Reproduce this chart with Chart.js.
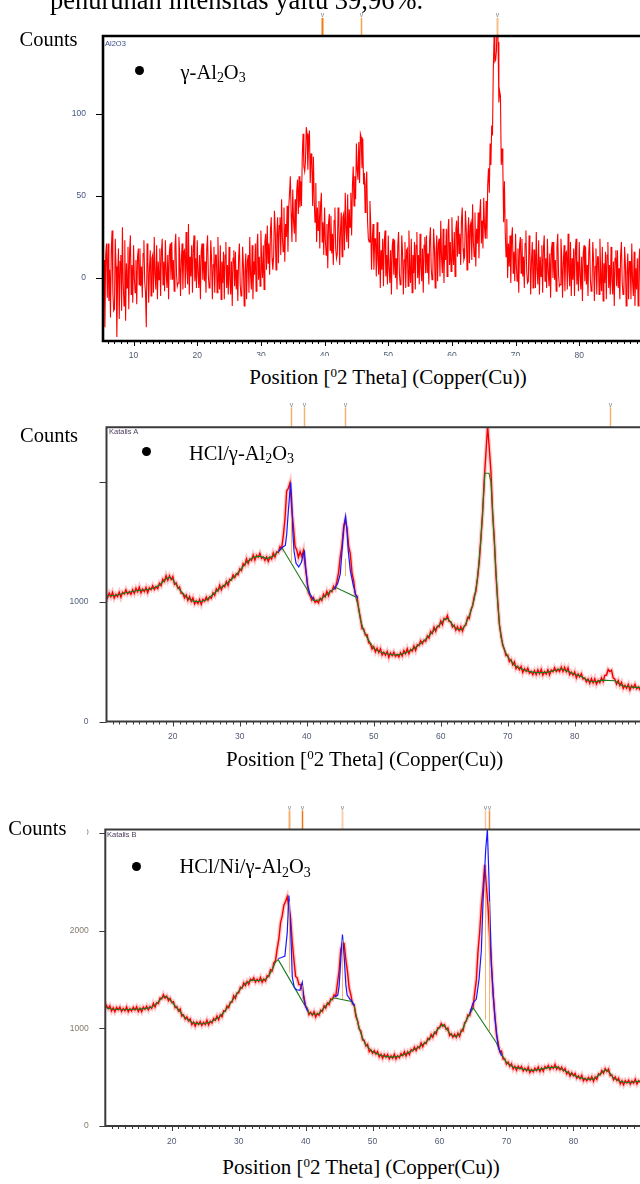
<!DOCTYPE html>
<html>
<head>
<meta charset="utf-8">
<script src="https://cdn.jsdelivr.net/npm/chart.js@4.4.1/dist/chart.umd.min.js"></script>
<style>
body { margin: 0; width: 640px; height: 1184px; overflow: hidden; position: relative; background: #fff; font-family: "Liberation Serif", "Times New Roman", serif; }
canvas { position: absolute; left: 0; }
.t { position: absolute; white-space: nowrap; line-height: 1; color: #000; }
.s { position: absolute; white-space: nowrap; line-height: 1; font-family: "Liberation Sans", Arial, sans-serif; font-size: 7.5px; }
.dot { position: absolute; width: 9px; height: 9px; border-radius: 50%; background: #000; }
.sb { font-size: 0.68em; position: relative; top: 0.28em; }
.sp { font-size: 0.62em; position: relative; top: -0.55em; }
.pos { text-align: center; font-size: 21px; }
</style>
</head>
<body>
<canvas id="c1" width="641" height="370" style="top:0px"></canvas>
<canvas id="c2" width="642" height="360" style="top:390px"></canvas>
<canvas id="c3" width="640" height="360" style="top:795px"></canvas>

<div class="t" style="left:50px; top:-13px; font-size:26.5px;">penurunan intensitas yaitu 39,96%.</div>

<div class="t" style="left:19.5px; top:29px; font-size:20.5px;">Counts</div>
<div class="s" style="left:105px; top:39.5px; color:#3a4a8a;">Al2O3</div>
<div class="dot" style="left:135px; top:65.5px;"></div>
<div class="t" style="left:180.5px; top:61.5px; font-size:20.5px;">γ-Al<span class="sb">2</span>O<span class="sb">3</span></div>
<div class="t pos" style="left:242px; top:356px; width:292px; height:36px; padding-top:11.3px; box-sizing:border-box; background:#fff;">Position [<span class="sp">0</span>2 Theta] (Copper(Cu))</div>

<div class="t" style="left:20px; top:424.5px; font-size:20.5px;">Counts</div>
<div class="s" style="left:109px; top:428.2px; color:#4a3a5a;">Katalis A</div>
<div class="dot" style="left:141.5px; top:446.5px;"></div>
<div class="t" style="left:189px; top:442.5px; font-size:20.5px;">HCl/γ-Al<span class="sb">2</span>O<span class="sb">3</span></div>
<div class="t pos" style="left:164.7px; top:749.3px; width:400px;">Position [<span class="sp">0</span>2 Theta] (Copper(Cu))</div>

<div class="t" style="left:8.3px; top:817.5px; font-size:20.5px;">Counts</div>
<div style="position:absolute; left:70px; top:826px; width:17px; height:12px; background:#fff;"></div>
<div class="s" style="left:107px; top:830.9px; color:#4a3a5a;">Katalis B</div>
<div class="dot" style="left:132.2px; top:861.5px;"></div>
<div class="t" style="left:179.5px; top:856px; font-size:20.5px;">HCl/Ni/γ-Al<span class="sb">2</span>O<span class="sb">3</span></div>
<div class="t pos" style="left:161px; top:1157.3px; width:400px;">Position [<span class="sp">0</span>2 Theta] (Copper(Cu))</div>

<script>
// gamma-Al2O3 scan: counts every 0.125 deg from 5.25 deg
const start1 = 5.25, step1 = 0.125;
const counts1 = [
  -20, 11, -30, 14, 21, -12,
  21, -14, 5, -24, 17, 29, -9, -20,     -19, 24, 7, -36, 1, 18, -25, 10,
  14, -20, 31, -3, -17, 23, -26, 9,     -6, 19, -19, 16, 26, -10, 8, -15,
  20, 0, -9, 11, -16, 13, 18, -4,       18, -5, 7, -12, 15, 23, -2, -9,
  -30, 21, 10, -15, 6, 17, -11, 12,     14, -9, 25, 2, -7, 20, -13, 10,
  -1, 18, -11, 16, 24, -4, 10, -8,      23, 3, -6, 14, -13, 16, 21, -1,
  22, -1, 11, -8, 19, 27, 2, -5,        -3, 25, 14, -11, 10, 21, -7, 16,
  17, -6, 28, 5, -4, 33, -10, 13,       1, 20, -9, 18, 26, -2, 12, -6,
  23, 3, -6, 14, -13, 16, 21, -1,       21, -2, 10, -9, 18, 26, 1, -6,
  -5, 23, 12, -13, 8, 19, -9, 14,       14, -9, 25, 2, -7, 20, -13, 10,
  -3, 16, -13, 14, 22, -6, 8, -10,      19, -1, -10, 10, -17, 12, 17, -5,
  16, -7, 5, -14, 13, 21, -4, -11,      -9, 19, 8, -17, 4, 15, -13, 10,
  14, -9, 25, 2, -7, 20, -13, 10,       2, 21, -8, 19, 27, -1, 13, -5,
  29, 9, 0, 20, -7, 22, 27, 5,          32, 9, 21, 2, 29, 37, 12, 5,
  13, 41, 30, 5, 26, 37, 9, 32,         37, 14, 48, 25, 16, 43, 10, 33,
  25, 44, 16, 43, 52, 62, 39, 22,       54, 35, 27, 48, 22, 53, 60, 39,
  62, 43, 59, 44, 75, 88, 68, 65,       71, 92, 88, 66, 84, 90, 58, 76,
  72, 44, 74, 47, 34, 58, 22, 43,       29, 47, 18, 45, 52, 22, 34, 14,
  43, 23, 14, 33, 6, 34, 39, 17,        38, 15, 27, 8, 35, 43, 18, 12,
  15, 43, 32, 8, 29, 40, 13, 37,        39, 17, 52, 30, 22, 51, 18, 42,
  31, 52, 26, 56, 68, 44, 62, 48,       82, 66, 60, 83, 58, 88, 86, 67,
  85, 57, 64, 40, 57, 65, 35, 24,       22, 47, 33, 5, 24, 33, 5, 24,
  24, 1, 34, 11, 2, 28, -6, 17,         5, 24, -5, 22, 29, 1, 14, -4,
  26, 6, -3, 17, -10, 19, 24, 2,        23, 0, 12, -7, 20, 28, 3, -4,
  -2, 26, 15, -10, 11, 22, -6, 17,      18, -5, 29, 6, -3, 24, -9, 14,
  3, 22, -7, 20, 28, 0, 14, -4,         27, 7, -2, 18, -9, 20, 25, 3,
  26, 3, 15, -4, 23, 31, 6, -1,         2, 30, 19, -6, 15, 26, -2, 21,
  24, 1, 35, 12, 3, 30, -3, 20,         11, 30, 1, 28, 36, 8, 22, 4,
  37, 17, 8, 28, 1, 30, 35, 13,         38, 15, 27, 8, 35, 43, 18, 11,
  13, 41, 30, 5, 26, 37, 9, 32,         34, 11, 45, 22, 13, 40, 7, 30,
  21, 40, 12, 39, 48, 21, 35, 18,       49, 31, 24, 47, 24, 57, 67, 52,
  82, 69, 93, 87, 127, 147, 132, 133,   139, 163, 144, 107, 114, 111, 69, 79,
  68, 34, 59, 28, 13, 36, 0, 21,        7, 26, -3, 24, 31, 3, 16, -2,
  27, 7, -2, 18, -9, 20, 25, 3,         24, 1, 13, -6, 21, 29, 4, -3,
  -2, 26, 15, -10, 11, 22, -6, 17,      17, -6, 28, 5, -4, 23, -10, 13,
  1, 20, -9, 18, 26, -2, 12, -6,        24, 4, -5, 15, -12, 17, 22, 0,
  22, -1, 11, -8, 19, 27, 2, -5,        -4, 24, 13, -12, 9, 20, -8, 15,
  16, -7, 27, 4, -5, 22, -11, 12,       -1, 18, -11, 16, 24, -4, 10, -8,
  22, 2, -7, 13, -14, 15, 20, -2,       19, -4, 8, -11, 16, 24, -1, -8,
  -6, 22, 11, -14, 7, 18, -10, 13,      13, -10, 24, 1, -8, 19, -14, 9,
  -3, 16, -13, 14, 22, -6, 8, -10,      19, -1, -10, 10, -17, 12, 17, -5,
  17, -6, 6, -13, 14, 22, -3, -10,      -9, 19, 8, -17, 4, 15, -13, 10,
  10, -13, 21, -2, -11, 16, -17, 6,     -7, 12, -17, 10, 18, -10, 4
];

// Katalis A, HCl/gamma-Al2O3: counts every 0.25 deg from 10 deg
const start2 = 10, step2 = 0.25;
const counts2 = [
  1064, 1032, 1072, 1041,  1077, 1031, 1061, 1043,  1079, 1038, 1079, 1065,  1099, 1065, 1083, 1063,
  1099, 1070, 1112, 1084,  1122, 1075, 1104, 1084,  1119, 1077, 1116, 1101,  1134, 1102, 1125, 1110,
  1154, 1134, 1187, 1169,  1217, 1179, 1216, 1185,  1209, 1144, 1156, 1113,  1124, 1072, 1068, 1032,
  1054, 1012, 1042, 1003,  1032, 982, 1007, 985,    1019, 978, 1019, 1004,   1039, 1012, 1040, 1028,
  1074, 1054, 1107, 1089,  1137, 1099, 1136, 1125,  1169, 1136, 1186, 1181,  1224, 1202, 1233, 1225,
  1274, 1260, 1317, 1303,  1357, 1319, 1356, 1345,  1389, 1347, 1387, 1371,  1404, 1362, 1373, 1345,
  1374, 1337, 1372, 1356,  1407, 1374, 1416, 1410,  1459, 1444, 1551, 1693,  1924, 1947, 1993, 1780,
  1634, 1462, 1432, 1371,  1417, 1379, 1426, 1305,  1199, 1074, 1051, 1013,  1034, 994, 1008, 990,
  1029, 1010, 1062, 1041,  1087, 1051, 1091, 1083,  1129, 1109, 1171, 1243,  1374, 1467, 1623, 1680,
  1614, 1462, 1402, 1241,  1177, 1059, 1046, 935,   869, 774, 771, 723,      724, 657, 648, 605,
  624, 582, 612, 576,      607, 555, 578, 553,      584, 536, 571, 550,      579, 543, 560, 538,
  574, 547, 592, 566,      607, 566, 601, 587,      629, 594, 641, 633,      674, 649, 678, 668,
  714, 697, 752, 736,      787, 754, 796, 790,      839, 809, 861, 851,      884, 835, 833, 790,
  804, 762, 792, 758,      792, 754, 796, 805,      869, 859, 931, 963,      1044, 1087, 1203, 1330,
  1534, 1732, 2022, 2241,  2467, 2279, 2086, 1735,  1519, 1224, 1011, 813,   724, 637, 603, 550,
  554, 500, 517, 473,      497, 441, 461, 432,      459, 409, 441, 418,      444, 404, 418, 392,
  424, 391, 430, 399,      435, 388, 416, 396,      431, 389, 429, 415,      449, 417, 438, 418,
  454, 417, 452, 416,      447, 392, 413, 386,      414, 364, 396, 373,      399, 355, 363, 330,
  354, 319, 357, 323,      357, 312, 342, 325,      364, 334, 386, 388,      434, 417, 428, 365,
  354, 312, 342, 301,      327, 277, 302, 278,      309, 263, 299, 280,      310, 273, 288, 265,
  299
];
// fitted background (green) and profile fit (blue), [angle, counts]
const background2 = [
  [10,1050],[11,1050],[12,1060],[13,1075],[14,1085],[15,1095],[16,1100],[17,1110],[18,1140],[19,1190],
  [19.5,1205],[20,1185],[21,1100],[22,1040],[23,1005],[24,1000],[25,1015],[26,1060],[27,1110],[28,1150],
  [29,1200],[30,1260],[31,1330],[32,1370],[33,1380],[34,1360],[35,1380],[35.5,1405],[36.3,1450],[40.5,1060],
  [41,1010],[42,1015],[43,1060],[44.3,1120],[47.3,1040],[47.75,950],[48,850],[48.5,760],[49,700],[50,610],
  [51,580],[52,565],[53,555],[54,560],[55,580],[56,610],[57,650],[58,700],[59,760],[60,820],[60.5,850],
  [61,860],[61.5,830],[62,790],[62.5,770],[63,765],[63.5,790],[64,850],[64.5,920],[65,1020],[65.5,1200],
  [66,1520],[66.3,1800],[66.6,2073],[67.2,2073],[67.5,2000],[67.75,1750],[68,1500],[68.25,1250],[68.5,1000],
  [68.75,820],[69,700],[69.5,600],[70,540],[71,470],[72,440],[73,420],[74,410],[75,408],[76,412],[77,425],
  [78,440],[79,420],[80,395],[81,375],[82,340],[83,330],[84,345],[86,340],[87,300],[88,290],[89,285],[90,285]
];
const fit2 = [
  [35.8,1420],[36.3,1452],[36.8,1470],[37.0,1560],[37.25,1760],[37.45,1900],[37.6,1997],[37.75,1850],
  [37.9,1600],[38.1,1420],[38.4,1320],[38.8,1290],[39.2,1330],[39.5,1400],[39.65,1420],[39.85,1280],
  [40.1,1140],[40.5,1060],[41,1020],[42,null],
  [44.0,1100],[44.6,1150],[45.0,1230],[45.3,1450],[45.6,1650],[45.8,1714],[46.0,1600],[46.2,1420],
  [46.5,1260],[46.9,1150],[47.3,1060],[47.6,1030]
];
// peak sticks inside the frame: [angle, low counts, high counts]
const sticks2 = [[37.65, 1330, 1700], [45.77, 1215, 1360]];

// Katalis B, HCl/Ni/gamma-Al2O3: counts every 0.25 deg from 10 deg
const start3 = 10, step3 = 0.25;
const counts3 = [
  1204, 1235, 1202, 1230,  1178, 1209, 1171, 1213,  1190, 1217, 1173, 1203,  1179, 1219, 1169, 1201,
  1179, 1215, 1187, 1220,  1173, 1206, 1171, 1216,  1195, 1226, 1188, 1223,  1204, 1256, 1218, 1263,
  1254, 1310, 1302, 1345,  1308, 1330, 1283, 1307,  1265, 1273, 1211, 1222,  1179, 1198, 1126, 1137,
  1094, 1117, 1077, 1097,  1038, 1065, 1023, 1064,  1040, 1069, 1029, 1061,  1039, 1083, 1036, 1072,
  1054, 1100, 1082, 1125,  1088, 1138, 1118, 1179,  1175, 1228, 1211, 1267,  1269, 1333, 1306, 1362,
  1364, 1420, 1412, 1465,  1438, 1480, 1451, 1504,  1490, 1517, 1473, 1503,  1479, 1520, 1471, 1504,
  1484, 1540, 1532, 1600,  1588, 1670, 1693, 1817,  1915, 2083, 2151, 2262,  2299, 2348, 2236, 2127,
  1884, 1700, 1532, 1515,  1448, 1450, 1393, 1317,  1225, 1203, 1141, 1164,  1134, 1170, 1116, 1152,
  1134, 1185, 1172, 1230,  1208, 1260, 1243, 1302,  1295, 1343, 1331, 1462,  1589, 1808, 1866, 1867,
  1704, 1580, 1412, 1345,  1248, 1240, 1123, 1077,  995, 973, 881, 877,      819, 836, 761, 779,
  744, 772, 737, 762,      708, 735, 693, 732,      705, 731, 688, 718,      694, 735, 686, 719,
  699, 742, 720, 759,      718, 759, 731, 783,      770, 807, 773, 813,      799, 850, 811, 854,
  844, 897, 887, 937,      908, 960, 943, 1007,     1005, 1048, 1021, 1037,  989, 1003, 926, 945,
  909, 940, 907, 950,      918, 980, 973, 1057,     1075, 1138, 1131, 1192,  1209, 1358, 1496, 1787,
  1984, 2250, 2442, 2675,  2458, 2240, 1923, 1667,  1345, 1153, 941, 852,    759, 768, 686, 687,
  634, 655, 612, 637,      583, 611, 571, 611,      585, 609, 563, 590,      564, 602, 548, 578,
  554, 592, 567, 603,      558, 594, 561, 608,      590, 619, 579, 611,      589, 631, 581, 605,
  574, 602, 564, 588,      533, 556, 511, 546,      515, 537, 489, 513,      484, 519, 462, 489,
  462, 498, 471, 504,      458, 502, 478, 534,      525, 568, 541, 587,      559, 583, 516, 522,
  474, 501, 464, 488,      433, 462, 423, 464,      440, 469, 429, 461,      439, 480, 431, 464,
  444
];
const background3 = [
  [10,1215],[11,1198],[12,1193],[13,1191],[14,1195],[15,1197],[16,1202],[17,1215],[18,1270],[18.5,1310],
  [19,1328],[19.5,1310],[20,1270],[21,1190],[22,1110],[23,1060],[24,1046],[25,1050],[26,1070],[27,1110],
  [28,1180],[29,1280],[30,1380],[31,1460],[32,1494],[33,1490],[34,1500],[34.5,1540],[35,1600],[35.5,1680],
  [35.9,1703],[39.65,1261],[40,1230],[40.5,1160],[41,1145],[42,1150],[43,1230],[44.13,1313],[46.87,1275],
  [47.25,1230],[47.5,1150],[48,1000],[48.5,900],[49,830],[50,760],[51,730],[52,710],[53,705],[54,715],
  [55,740],[56,775],[57,810],[58,860],[59,930],[60,1010],[60.5,1040],[61,1000],[61.5,950],[62,925],
  [62.5,915],[63,940],[63.5,1000],[64,1080],[64.5,1150],[65.04,1208],[68.52,850],[69,770],[69.5,710],
  [70,650],[71,605],[72,590],[73,575],[74,570],[75,580],[76,595],[77,600],[77.5,605],[78,590],[79,555],
  [80,520],[81,495],[82,478],[83,480],[84,530],[84.75,575],[85,570],[85.5,540],[86,490],[87,455],[88,445],
  [89,450],[90,460]
];
const fit3 = [
  [35.9,1715],[36.4,1725],[36.9,1740],[37.25,1980],[37.5,2360],[37.75,2040],[38.0,1530],[38.3,1420],
  [38.65,1395],[39.15,1390],[39.5,1470],[39.75,1300],[39.9,1240],[40.3,1175],[42,null],
  [44.3,1320],[44.8,1340],[45.0,1430],[45.27,1736],[45.5,1960],[45.75,1740],[46.0,1450],[46.2,1340],
  [46.6,1300],[47.0,1270],[47.3,1230],[55,null],
  [64.5,1150],[65.0,1260],[65.5,1300],[65.9,1500],[66.25,1800],[66.5,2300],[66.9,2830],[67.15,3036],
  [67.4,2500],[67.75,1640],[68.25,1120],[68.75,820],[69.25,720]
];
const sticks3 = [[37.5, 1570, 2300], [39.5, 1300, 1440], [45.47, 1300, 1908], [66.74, 1090, 2450], [67.32, 970, 2300]];

// reference peak positions marked above each frame
const peaks1 = [39.55, 45.68, 67.03];
const peaks2 = [37.65, 39.65, 45.77, 85.27];
const peaks3 = [37.5, 39.5, 45.47, 66.74, 67.32];

// axis tick values
const xTicks1 = [10, 20, 30, 40, 50, 60, 70, 80];
const xTicks23 = [20, 30, 40, 50, 60, 70, 80];
const yTicks1 = [0, 50, 100];
const yTicks2 = [0, 1000, 2000];
const yTicks3 = [0, 1000, 2000, 3000];

function series(start, step, counts) {
  return counts.map((c, i) => ({ x: start + i * step, y: c }));
}
function pairs(list) {
  return list.map(p => ({ x: p[0], y: p[1] }));
}

function xrdFrame(cfg) {
  return {
    id: 'xrdFrame',
    afterDraw(chart) {
      const ctx = chart.ctx, a = chart.chartArea;
      const xs = chart.scales.x, ys = chart.scales.y;
      ctx.save();
      // sticks inside the plot
      ctx.strokeStyle = 'rgba(245,160,80,0.8)';
      ctx.lineWidth = 1;
      (cfg.sticks || []).forEach(function(s) {
        const px = Math.round(xs.getPixelForValue(s[0])) + 0.5;
        ctx.beginPath();
        ctx.moveTo(px, ys.getPixelForValue(s[1]));
        ctx.lineTo(px, ys.getPixelForValue(s[2]));
        ctx.stroke();
      });
      cfg.peaks.forEach(function(p, i) {
        const px = Math.round(xs.getPixelForValue(p)) + 0.5;
        ctx.strokeStyle = cfg.peakColors[i];
        ctx.lineWidth = cfg.peakWidths[i];
        ctx.beginPath();
        ctx.moveTo(px, a.top - cfg.peakLen);
        ctx.lineTo(px, a.top);
        ctx.stroke();
        ctx.fillStyle = '#858585';
        ctx.font = '7px "Liberation Sans"';
        ctx.textAlign = 'center';
        ctx.textBaseline = 'bottom';
        ctx.fillText('v', px, a.top - cfg.peakLen + 1);
      });
      // minor / major ticks under the x axis, ticks left of the y axis
      ctx.strokeStyle = cfg.frameColor;
      ctx.lineWidth = 1;
      ctx.beginPath();
      for (let v = Math.ceil(xs.min); v <= xs.max; v++) {
        const px = Math.round(xs.getPixelForValue(v)) + 0.5;
        ctx.moveTo(px, a.bottom);
        ctx.lineTo(px, a.bottom + (v % 10 === 0 ? 5 : 3));
      }
      ys.ticks.forEach(function(t) {
        const py = Math.round(ys.getPixelForValue(t.value)) + 0.5;
        ctx.moveTo(a.left - cfg.yTick, py);
        ctx.lineTo(a.left, py);
      });
      ctx.stroke();
      ctx.strokeStyle = cfg.frameColor;
      ctx.lineWidth = cfg.frameWidth;
      ctx.beginPath();
      ctx.moveTo(a.right + 3, a.top);
      ctx.lineTo(a.left, a.top);
      ctx.lineTo(a.left, a.bottom);
      ctx.lineTo(a.right + 3, a.bottom);
      ctx.stroke();
      ctx.restore();
    }
  };
}

const tickFont = { family: 'Liberation Sans', size: 8.5 };

function makeChart(id, o) {
  return new Chart(document.getElementById(id), {
    type: 'line',
    data: { datasets: o.datasets },
    options: {
      responsive: false,
      animation: false,
      events: [],
      layout: { padding: { top: o.padTop, left: 0, right: 0, bottom: 0 } },
      plugins: { legend: { display: false }, tooltip: { enabled: false } },
      elements: { point: { radius: 0 }, line: { tension: 0 } },
      scales: {
        x: {
          type: 'linear', min: o.xMin, max: o.xMax,
          grid: { display: false }, border: { display: false },
          afterBuildTicks: s => { s.ticks = o.xTicks.map(v => ({ value: v })); },
          afterFit: s => { s.height = o.xHeight; },
          ticks: {
            autoSkip: false, maxRotation: 0, padding: o.xPad, color: '#4f5a70', font: tickFont,
            callback: v => Math.round(v)
          }
        },
        y: {
          min: o.yMin, max: o.yMax,
          grid: { display: false }, border: { display: false },
          afterBuildTicks: s => { s.ticks = o.yTicks.map(v => ({ value: v })); },
          afterFit: s => { s.width = o.yWidth; },
          ticks: { padding: o.yPad, color: o.yColor, font: tickFont, callback: o.yLabel }
        }
      }
    },
    plugins: [xrdFrame(o.frame)]
  });
}

makeChart('c1', {
  padTop: 36, xHeight: 29, yWidth: 103, xMin: 5.2, xMax: 89.7, yMin: -38.4, yMax: 147.6,
  xTicks: xTicks1, yTicks: yTicks1, xPad: 2, yPad: 9, yColor: '#44557e', yLabel: v => v,
  frame: { peaks: peaks1, peakColors: ['#f07c10', '#f5a048', '#f7bf88'], peakWidths: [2, 1.5, 2],
           peakLen: 18, yTick: 7, frameColor: '#000', frameWidth: 2.6 },
  datasets: [
    { data: series(start1, step1, counts1), borderColor: '#ff0000', borderWidth: 1.1 }
  ]
});

makeChart('c2', {
  padTop: 37.3, xHeight: 28.5, yWidth: 106.5, xMin: 10.1, xMax: 90.05, yMin: 0, yMax: 2456,
  xTicks: xTicks23, yTicks: yTicks2, xPad: 1.7, yPad: 10, yColor: '#55607e', yLabel: v => (v === 2000 ? '' : v),
  frame: { peaks: peaks2, sticks: sticks2, peakColors: ['#f6b070', '#f6b070', '#f6b070', '#f6b070'], peakWidths: [1.5, 1.5, 1.5, 1.5],
           peakLen: 20, yTick: 7, frameColor: '#3a3a3a', frameWidth: 2 },
  datasets: [
    { data: pairs(fit2), borderColor: '#1818ff', borderWidth: 1.2, order: 0 },
    { data: pairs(background2), borderColor: '#1b7a1b', borderWidth: 1.1, order: 1 },
    { data: series(start2, step2, counts2), borderColor: '#f00000', borderWidth: 1.4, order: 2 },
    { data: series(start2, step2, counts2), borderColor: 'rgba(255,70,70,0.3)', borderWidth: 4, order: 3 }
  ]
});

makeChart('c3', {
  padTop: 34.5, xHeight: 29, yWidth: 105.3, xMin: 10.07, xMax: 89.95, yMin: 0, yMax: 3036,
  xTicks: xTicks23, yTicks: yTicks3, xPad: 3, yPad: 8.6, yColor: '#857a6a', yLabel: v => v,
  frame: { peaks: peaks3, sticks: sticks3, peakColors: ['#f7b070', '#ef7414', '#f8d0b0', '#f8c49c', '#f09040'], peakWidths: [2, 1.5, 2, 1.5, 1.5],
           peakLen: 19, yTick: 6, frameColor: '#3a3a3a', frameWidth: 2 },
  datasets: [
    { data: pairs(fit3), borderColor: '#1818ff', borderWidth: 1.2, order: 0 },
    { data: pairs(background3), borderColor: '#1b7a1b', borderWidth: 1.1, order: 1 },
    { data: series(start3, step3, counts3), borderColor: '#f00000', borderWidth: 1.4, order: 2 },
    { data: series(start3, step3, counts3), borderColor: 'rgba(255,70,70,0.3)', borderWidth: 4, order: 3 }
  ]
});
</script>
</body>
</html>
